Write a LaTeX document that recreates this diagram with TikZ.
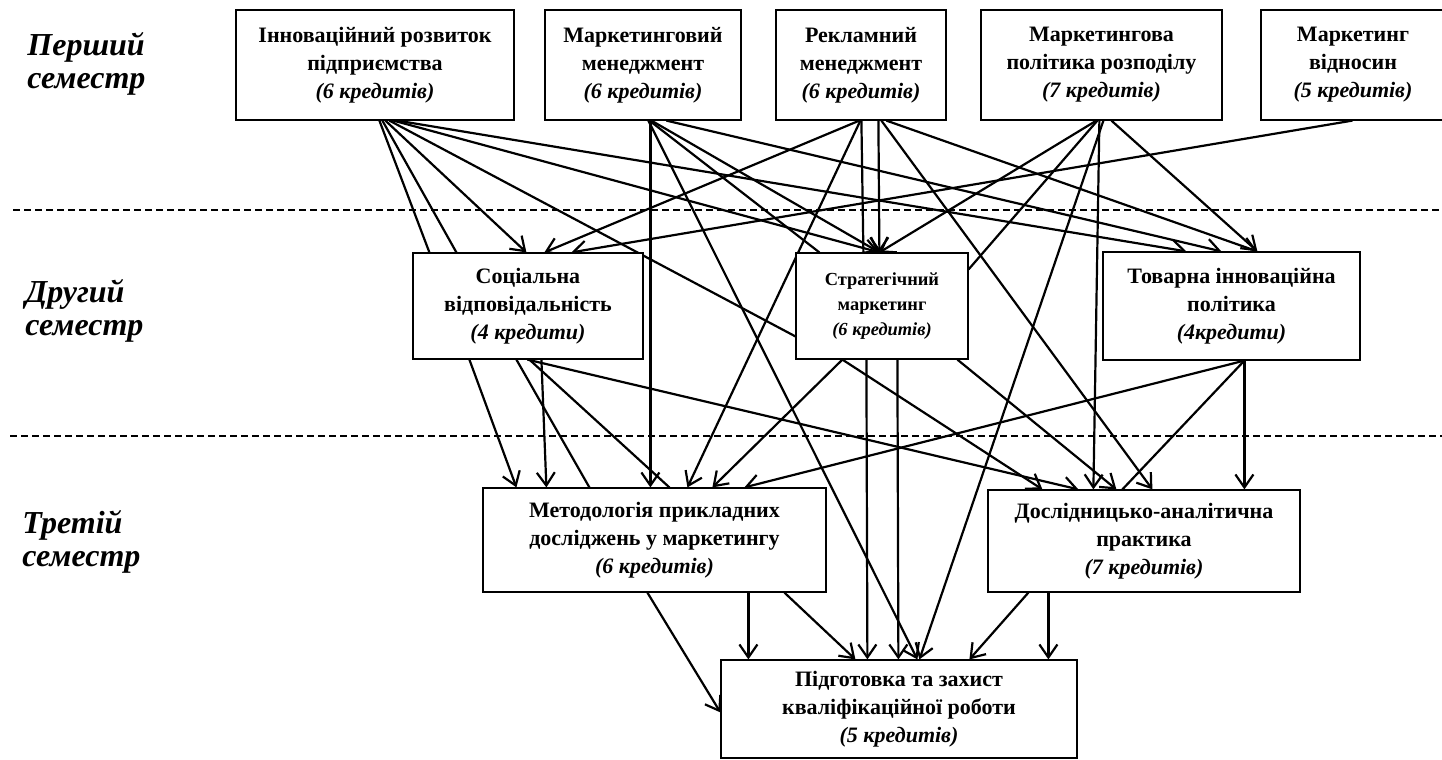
\documentclass[tikz,border=0pt]{standalone}
\usepackage{fontspec}
\setmainfont{Liberation Serif}
\usetikzlibrary{arrows.meta,calc,backgrounds}
\begin{document}
\begin{tikzpicture}[x=0.5pt,y=-0.5pt,
  box/.style={draw,line width=0.6pt,fill=white,inner sep=0pt,align=center,
    font=\fontsize{11}{14}\selectfont\bfseries},
  smallbox/.style={box,font=\fontsize{9.2}{12.5}\selectfont\bfseries},
  conn/.style={line width=1.1pt},
  arr/.style={conn,-{Straight Barb[length=6.5pt,width=9pt,line width=1.1pt]}},
  sem/.style={font=\fontsize{16}{16.5}\selectfont\bfseries\itshape,align=left,inner sep=0pt,anchor=base west},
  sep/.style={line width=0.7pt,dash pattern=on 3.5pt off 2pt}]
\useasboundingbox (0,0) rectangle (1442,760);

% semester labels (anchored at the baseline of the last line)
\node[sem] (s1) at (27,88) {Перший\\семестр};
\node[sem] (s2) at (25,335) {Другий\\семестр};
\node[sem] (s3) at (22,566) {Третій\\семестр};

% first semester
\node[box,minimum width=139pt,minimum height=55pt] (A) at (375,65) {Інноваційний розвиток\\підприємства\\\textit{(6 кредитів)}};
\node[box,minimum width=98pt,minimum height=55pt] (B) at (643,65) {Маркетинговий\\менеджмент\\\textit{(6 кредитів)}};
\node[box,minimum width=85pt,minimum height=55pt] (C) at (861,65) {Рекламний\\менеджмент\\\textit{(6 кредитів)}};
\node[box,minimum width=120.5pt,minimum height=55pt] (D) at (1101.5,65) {Маркетингова\\політика розподілу\\\textit{(7 кредитів)}};
\node[box,minimum width=92pt,minimum height=55pt] (E) at (1353,65) {Маркетинг\\відносин\\\textit{(5 кредитів)}};

% second semester
\node[box,minimum width=115pt,minimum height=53pt] (F) at (528,306) {Соціальна\\відповідальність\\\textit{(4 кредити)}};
\node[smallbox,minimum width=86pt,minimum height=53pt] (G) at (882,306) {Стратегічний\\маркетинг\\\textit{(6 кредитів)}};
\node[box,minimum width=128.5pt,minimum height=54pt] (H) at (1231.5,306) {Товарна інноваційна\\політика\\\textit{(4кредити)}};

% third semester
\node[box,minimum width=171.5pt,minimum height=52pt] (I) at (654.5,540) {Методологія прикладних\\досліджень у маркетингу\\\textit{(6 кредитів)}};
\node[box,minimum width=156pt,minimum height=51pt] (J) at (1144,541) {Дослідницько-аналітична\\практика\\\textit{(7 кредитів)}};
\node[box,minimum width=178pt,minimum height=49pt] (K) at (899,709) {Підготовка та захист\\кваліфікаційної роботи\\\textit{(5 кредитів)}};

\begin{scope}[on background layer]
% separators
\draw[sep] (13,210) -- (1442,210);
\draw[sep] (10,436) -- (1442,436);

% from A
\draw[conn] ($(A.south west)+(144,0)$) -- ($(F.north west)+(17,0)$);
\draw[arr]  ($(F.south west)+(57,0)$) -- ($(I.north west)+(34,0)$);
\draw[conn] ($(A.south west)+(147,0)$) -- ($(F.north west)+(44,0)$);
\draw[conn] ($(F.south west)+(104,0)$) -- ($(I.north west)+(107,0)$);
\draw[arr]  ($(A.south west)+(150,0)$) -- ($(F.north west)+(114,0)$);
\draw[conn] ($(A.south west)+(154,0)$) -- ($(G.north west)+(0,84)$);
\draw[arr]  ($(A.south west)+(158,0)$) -- ($(G.north west)+(84,0)$);
\draw[arr]  ($(A.south west)+(162,0)$) -- ($(H.north west)+(84,0)$);

% from B
\draw[arr]  ($(B.south west)+(106,0)$) -- ($(I.north west)+(168,0)$);
\draw[arr]  ($(B.south west)+(104,0)$) -- ($(K.north west)+(197,0)$);
\draw[conn] ($(B.south west)+(105,0)$) -- ($(G.north west)+(24,0)$);
\draw[arr]  ($(G.south west)+(162,0)$) -- ($(J.north west)+(129,0)$);
\draw[arr]  ($(B.south west)+(107,0)$) -- ($(G.north west)+(84,0)$);
\draw[arr]  ($(B.south west)+(122,0)$) -- ($(H.north west)+(119,0)$);

% from C
\draw[arr]  ($(C.south west)+(84,0)$) -- ($(F.north west)+(132,0)$);
\draw[arr]  ($(C.south west)+(85,0)$) -- ($(I.north west)+(205,0)$);
\draw[conn] ($(C.south west)+(86,0)$) -- ($(G.north west)+(68,0)$);
\draw[arr]  ($(G.south west)+(71,0)$) -- ($(K.north west)+(147,0)$);
\draw[arr]  ($(C.south west)+(103,0)$) -- ($(G.north west)+(84,0)$);
\draw[arr]  ($(C.south west)+(106,0)$) -- ($(J.north west)+(165,0)$);
\draw[arr]  ($(C.south west)+(111,0)$) -- ($(H.north west)+(155,0)$);

% from D
\draw[arr]  ($(D.south west)+(116,0)$) -- ($(G.north west)+(84,0)$);
\draw[arr]  ($(D.south west)+(119,0)$) -- ($(J.north west)+(106,0)$);
\draw[arr]  ($(D.south west)+(123,0)$) -- ($(K.north west)+(199,0)$);
\draw[arr]  ($(D.south west)+(131,0)$) -- ($(H.north west)+(155,0)$);
\draw[conn] ($(D.south west)+(117,0)$) -- ($(G.north east)+(0,17)$);

% from E
\draw[arr]  ($(E.south west)+(92,0)$) -- ($(F.north west)+(159,0)$);

% from F
\draw[arr]  ($(F.south west)+(129,0)$) -- ($(I.north west)+(64,0)$);
\draw[conn] ($(F.south west)+(117,0)$) -- ($(I.north west)+(187,0)$);
\draw[arr]  ($(I.south west)+(302,0)$) -- ($(K.north west)+(135,0)$);
\draw[arr]  ($(F.south west)+(115,0)$) -- ($(J.north west)+(91,0)$);

% from G
\draw[arr]  ($(G.south west)+(47,0)$) -- ($(I.north west)+(230,0)$);
\draw[arr]  ($(G.south west)+(47,0)$) -- ($(J.north west)+(55,0)$);
\draw[arr]  ($(G.south west)+(102,0)$) -- ($(K.north west)+(178,0)$);

% from H
\draw[arr]  ($(H.south west)+(142,0)$) -- ($(I.north west)+(262,0)$);
\draw[arr]  ($(H.south west)+(142,0)$) -- ($(J.north west)+(257,0)$);
\draw[conn] ($(H.south west)+(142,0)$) -- ($(J.north west)+(135,0)$);

% from I
\draw[arr]  ($(I.south west)+(165,0)$) -- ($(K.north west)+(0,53)$);
\draw[arr]  ($(I.south west)+(266,0)$) -- ($(K.north west)+(28,0)$);

% from J
\draw[arr]  ($(J.south west)+(41,0)$) -- ($(K.north west)+(249,0)$);
\draw[arr]  ($(J.south west)+(61,0)$) -- ($(K.north west)+(328,0)$);
\end{scope}
\end{tikzpicture}
\end{document}
